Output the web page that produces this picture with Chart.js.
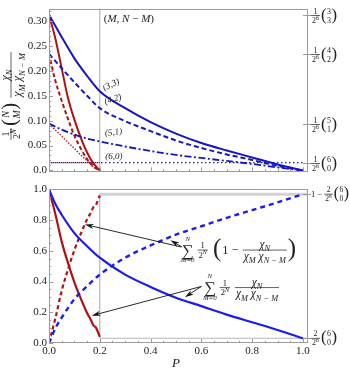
<!DOCTYPE html>
<html>
<head>
<meta charset="utf-8">
<script src="https://cdn.jsdelivr.net/npm/chart.js@4.4.1/dist/chart.umd.min.js"></script>
<style>
  html, body { margin: 0; padding: 0; background: #fff; }
  .box { position: absolute; left: 0; width: 350px; }
</style>
</head>
<body>
<div class="box" style="top:0;height:180px"><canvas id="topChart"></canvas></div>
<div class="box" style="top:180px;height:190px"><canvas id="botChart"></canvas></div>
<script>
// ---- data (N = 6) ----
// top panel: single terms (M, N-M)
const pBlue  = [0, 0.05, 0.1, 0.15, 0.2, 0.3, 0.4, 0.5, 0.6, 0.7, 0.8, 0.9, 1.0];
const blue33 = [0.3125, 0.268, 0.225, 0.19, 0.159, 0.125, 0.097, 0.074, 0.055, 0.040, 0.026, 0.012, 0.0];
const blue42 = [0.234, 0.205, 0.177, 0.15, 0.125, 0.099, 0.079, 0.060, 0.045, 0.032, 0.021, 0.009, 0.0];
const blue51 = [0.094, 0.082, 0.072, 0.064, 0.058, 0.048, 0.039, 0.031, 0.025, 0.019, 0.013, 0.006, 0.0];
const pFlat  = [0, 1.0];
const blue60 = [0.0156, 0.0156];

const pRed  = [0, 0.025, 0.05, 0.075, 0.1, 0.125, 0.15, 0.175, 0.2];
const red33 = [0.3125, 0.265, 0.205, 0.145, 0.102, 0.066, 0.036, 0.014, 0.0];
const red42 = [0.234, 0.18, 0.14, 0.103, 0.07, 0.044, 0.023, 0.008, 0.0];
const red51 = [0.094, 0.081, 0.069, 0.056, 0.044, 0.031, 0.019, 0.007, 0.0];
const pRedFlat = [0, 0.2];
const red60 = [0.0156, 0.0156];

// bottom panel: sums over M
const pSum      = [0, 0.025, 0.05, 0.1, 0.15, 0.2, 0.3, 0.4, 0.5, 0.6, 0.7, 0.8, 0.9, 1.0];
const blueSum   = [1.0, 0.905, 0.835, 0.715, 0.63, 0.555, 0.445, 0.365, 0.295, 0.24, 0.185, 0.135, 0.085, 0.031];
const blueRest  = [0.0, 0.095, 0.165, 0.285, 0.37, 0.445, 0.555, 0.635, 0.705, 0.76, 0.815, 0.865, 0.915, 0.969];
const pRedSum   = [0, 0.0125, 0.025, 0.05, 0.075, 0.1, 0.125, 0.15, 0.165, 0.175, 0.185, 0.2];
const redSum    = [1.0, 0.92, 0.84, 0.66, 0.52, 0.395, 0.29, 0.195, 0.15, 0.115, 0.1, 0.04];
const redRest   = [0.0, 0.08, 0.16, 0.34, 0.48, 0.605, 0.71, 0.805, 0.85, 0.885, 0.9, 0.96];

const cutP = 0.2;
const lowLevel = 0.031, highLevel = 0.969;

// ticks and labels
const xTicks = [0, 0.2, 0.4, 0.6, 0.8, 1.0];
const topYTicks = [0, 0.05, 0.1, 0.15, 0.2, 0.25, 0.3];
const botYTicks = [0, 0.2, 0.4, 0.6, 0.8, 1.0];
const curveTags = ['(3,3)', '(4,2)', '(5,1)', '(6,0)'];
const topRightVals = [0.3125, 0.234, 0.094, 0.0156];
const topRightBinoms = [['3', '3'], ['4', '2'], ['5', '1'], ['6', '0']];
const botRightVals = [highLevel, lowLevel];

const SERIF = '"Liberation Serif", "DejaVu Serif", serif';
const BLUE = '#1616c4';
const BLUE2 = '#1c1cf0';
const RED = '#b01212';
const FRAME = '#9c9c9c';

// ---- small math text helpers ----
function fnt(size, it) { return (it ? 'italic ' : '') + size.toFixed(1) + 'px ' + SERIF; }
// kind: r roman, i italic, +s sub, +p sup
function segInfo(k, size) {
  const s = k.length > 1 ? size * 0.72 : size;
  const dy = k[1] === 's' ? size * 0.28 : (k[1] === 'p' ? -size * 0.4 : 0);
  return { f: fnt(s, k[0] === 'i'), dy: dy };
}
function richW(ctx, segs, size) {
  let w = 0;
  for (const [t, k] of segs) { ctx.font = segInfo(k, size).f; w += ctx.measureText(t).width; }
  return w;
}
function rich(ctx, segs, x, y, size) {
  ctx.textAlign = 'left'; ctx.textBaseline = 'alphabetic';
  for (const [t, k] of segs) {
    const m = segInfo(k, size);
    ctx.font = m.f; ctx.fillText(t, x, y + m.dy);
    x += ctx.measureText(t).width;
  }
  return x;
}
function frac(ctx, num, den, x, y, size) {
  const wn = richW(ctx, num, size), wd = richW(ctx, den, size);
  const w = Math.max(wn, wd) + 2;
  rich(ctx, num, x + (w - wn) / 2, y - 2, size);
  rich(ctx, den, x + (w - wd) / 2, y + size * 0.72 + 1.5, size);
  ctx.fillRect(x, y - 0.35, w, 0.7);
  return x + w;
}
function paren(ctx, ch, x, y, size) {
  ctx.font = fnt(size, false); ctx.textAlign = 'left'; ctx.textBaseline = 'alphabetic';
  ctx.fillText(ch, x, y + size * 0.24);
  return x + ctx.measureText(ch).width;
}
function binom(ctx, top, bot, x, y, size) {
  x = paren(ctx, '(', x, y, size * 2.1);
  const wt = richW(ctx, top, size), wb = richW(ctx, bot, size);
  const w = Math.max(wt, wb) + 1;
  rich(ctx, top, x + (w - wt) / 2, y - 2, size);
  rich(ctx, bot, x + (w - wb) / 2, y + size * 0.72 + 1.5, size);
  return paren(ctx, ')', x + w, y, size * 2.1);
}
function sigma(ctx, x, y, size) {
  ctx.font = fnt(size * 1.5, false);
  const w = ctx.measureText('\u2211').width;
  ctx.textAlign = 'center'; ctx.textBaseline = 'alphabetic';
  ctx.fillText('\u2211', x + w / 2, y + size * 0.5);
  ctx.font = fnt(size * 0.62, true);
  ctx.fillText('N', x + w / 2, y - size * 0.85);
  ctx.fillText('M=0', x + w / 2, y + size * 1.1);
  return x + w + 1;
}
function arrow(ctx, x0, y0, x1, y1) {
  const a = Math.atan2(y1 - y0, x1 - x0), c = Math.cos(a), s = Math.sin(a), L = 9, W = 2.6;
  ctx.beginPath(); ctx.moveTo(x0, y0); ctx.lineTo(x1 - L * 0.7 * c, y1 - L * 0.7 * s); ctx.stroke();
  ctx.beginPath();
  ctx.moveTo(x1, y1);
  ctx.lineTo(x1 - L * c + W * s, y1 - L * s - W * c);
  ctx.lineTo(x1 - L * 0.7 * c, y1 - L * 0.7 * s);
  ctx.lineTo(x1 - L * c - W * s, y1 - L * s + W * c);
  ctx.closePath(); ctx.fill();
}

const chiN = [['\u03c7', 'i'], ['N', 'is']];
const chiDen = [['\u03c7', 'i'], ['M', 'is'], [' ', 'r'], ['\u03c7', 'i'], ['N \u2212 M', 'is']];
const oneOver2N = [[['1', 'r']], [['2', 'r'], ['N', 'ip']]];

// ---- frame, inward ticks ----
function frameAndTicks(chart, yMajor, yMinor, tickLen) {
  const ctx = chart.ctx, a = chart.chartArea, xs = chart.scales.x, ys = chart.scales.y;
  ctx.save();
  ctx.strokeStyle = FRAME; ctx.lineWidth = 1;
  ctx.strokeRect(Math.round(a.left) + 0.5, Math.round(a.top) + 0.5,
    Math.round(a.right - a.left) - 1, Math.round(a.bottom - a.top) - 1);
  ctx.beginPath();
  for (let v = 0; v <= 1.0001; v += 0.05) {
    const px = Math.round(xs.getPixelForValue(v)) + 0.5;
    const major = Math.abs(v / 0.2 - Math.round(v / 0.2)) < 1e-6;
    ctx.moveTo(px, a.bottom); ctx.lineTo(px, a.bottom - (major ? tickLen : tickLen * 0.55));
  }
  for (const v of yMinor) {
    const py = Math.round(ys.getPixelForValue(v)) + 0.5;
    const major = yMajor.some(m => Math.abs(m - v) < 1e-6);
    ctx.moveTo(a.left, py); ctx.lineTo(a.left + (major ? tickLen : tickLen * 0.55), py);
  }
  ctx.stroke();
  ctx.restore();
}

function lineDs(xs, ys, color, width, dash, extra) {
  return Object.assign({
    data: xs.map((x, i) => ({ x: x, y: ys[i] })),
    borderColor: color, borderWidth: width, borderDash: dash || [],
    pointRadius: 0, showLine: true, fill: false,
    cubicInterpolationMode: 'monotone', order: 0
  }, extra || {});
}
function guideDs(xs, ys, color, width) {
  return lineDs(xs, ys, color, width, [], { cubicInterpolationMode: 'default', tension: 0, order: 10 });
}

function yAxis(min, max, ticks, fmt) {
  return {
    type: 'linear', min: min, max: max,
    afterBuildTicks: s => { s.ticks = ticks.map(v => ({ value: v })); },
    afterFit: s => { s.width = 49; },
    ticks: { callback: fmt, color: '#222', padding: 2, font: { family: SERIF, size: 11 } },
    grid: { display: false, drawTicks: false }, border: { display: false }
  };
}

const baseOpts = {
  responsive: true, maintainAspectRatio: false, animation: false, devicePixelRatio: 1,
  plugins: { legend: { display: false }, tooltip: { enabled: false } }
};

// ---- top panel ----
const topMinor = [];
for (let i = 0; i <= 32; i++) topMinor.push(i / 100);

const topDecor = {
  id: 'topDecor',
  afterDatasetsDraw(chart) {
    const ctx = chart.ctx, xs = chart.scales.x, ys = chart.scales.y, a = chart.chartArea;
    frameAndTicks(chart, topYTicks, topMinor, 4);
    ctx.save();
    ctx.fillStyle = '#222'; ctx.strokeStyle = FRAME;
    // right-hand ticks and labels
    topRightVals.forEach((v, i) => {
      const py = Math.round(ys.getPixelForValue(v)) + 0.5;
      ctx.beginPath(); ctx.moveTo(a.right - 5, py); ctx.lineTo(a.right + 3, py); ctx.stroke();
      let x = frac(ctx, [['1', 'r']], [['2', 'r'], ['6', 'rp']], a.right + 3, py, 8);
      binom(ctx, [[topRightBinoms[i][0], 'r']], [[topRightBinoms[i][1], 'r']], x + 1, py, 8);
    });
    // (M, N - M)
    rich(ctx, [['(', 'r'], ['M', 'i'], [', ', 'r'], ['N', 'i'], [' \u2212 ', 'r'], ['M', 'i'], [')', 'r']],
      xs.getPixelForValue(cutP) + 4, ys.getPixelForValue(0.3) + 1, 11);
    // curve tags
    const tagAt = [[0.218, 0.16, -0.45], [0.222, 0.133, -0.3], [0.222, 0.069, -0.14], [0.222, 0.022, 0]];
    curveTags.forEach((t, i) => {
      ctx.save();
      ctx.translate(xs.getPixelForValue(tagAt[i][0]), ys.getPixelForValue(tagAt[i][1]));
      ctx.rotate(tagAt[i][2]);
      ctx.font = fnt(9, true); ctx.textAlign = 'left'; ctx.textBaseline = 'alphabetic';
      ctx.fillText(t, 0, 0);
      ctx.restore();
    });
    // y axis title, rotated
    ctx.save();
    ctx.translate(11, 96); ctx.rotate(-Math.PI / 2);
    const parts = () => {
      let x = 0;
      x = frac(ctx, oneOver2N[0], oneOver2N[1], x, 0, 10);
      x = binom(ctx, [['N', 'i']], [['M', 'i']], x + 2, 0, 10);
      x = frac(ctx, chiN, chiDen, x + 5, 0, 12);
      return x;
    };
    ctx.save(); ctx.globalAlpha = 0; const W = parts(); ctx.restore();
    ctx.translate(-W / 2, 0);
    parts();
    ctx.restore();
    ctx.restore();
  }
};

new Chart(document.getElementById('topChart'), {
  type: 'scatter',
  data: {
    datasets: [
      guideDs([cutP, cutP], [-0.01, 0.4], '#a8a8a8', 1),
      lineDs(pRedFlat, red60, RED, 1.4, [1.5, 2.5], { borderDashOffset: 2 }),
      lineDs(pFlat, blue60, BLUE, 1.4, [1.5, 2.5]),
      lineDs(pBlue, blue51, BLUE, 1.8, [7, 2.5, 2, 2.5]),
      lineDs(pBlue, blue42, BLUE, 2, [5, 3]),
      lineDs(pBlue, blue33, BLUE, 2),
      lineDs(pRed, red51, RED, 1.3, [1.5, 1.5]),
      lineDs(pRed, red42, RED, 2, [4, 2.5]),
      lineDs(pRed, red33, RED, 2)
    ]
  },
  options: Object.assign({}, baseOpts, {
    layout: { padding: { top: 3, right: 42, bottom: 4, left: 0 } },
    scales: {
      x: { type: 'linear', min: 0, max: 1.02, display: false },
      y: yAxis(-0.002, 0.325, topYTicks, v => (v === 0 ? '0.0' : v.toFixed(2)))
    }
  }),
  plugins: [topDecor]
});

// ---- bottom panel ----
const botMinor = [];
for (let i = 0; i <= 20; i++) botMinor.push(i * 0.05);

const botDecor = {
  id: 'botDecor',
  afterDatasetsDraw(chart) {
    const ctx = chart.ctx, xs = chart.scales.x, ys = chart.scales.y, a = chart.chartArea;
    frameAndTicks(chart, botYTicks, botMinor, 4);
    const X = v => xs.getPixelForValue(v), Y = v => ys.getPixelForValue(v);
    ctx.save();
    ctx.fillStyle = '#222'; ctx.strokeStyle = FRAME;
    botRightVals.forEach(v => {
      const py = Math.round(Y(v)) + 0.5;
      ctx.beginPath(); ctx.moveTo(a.right - 5, py); ctx.lineTo(a.right + 3, py); ctx.stroke();
    });
    let x = rich(ctx, [['1 \u2212 ', 'r']], a.right + 3, Y(highLevel) + 3, 8.5);
    x = frac(ctx, [['2', 'r']], [['2', 'r'], ['6', 'rp']], x, Y(highLevel), 7.5);
    binom(ctx, [['6', 'r']], [['0', 'r']], x + 1, Y(highLevel), 7.5);
    x = frac(ctx, [['2', 'r']], [['2', 'r'], ['6', 'rp']], a.right + 3, Y(lowLevel), 8);
    binom(ctx, [['6', 'r']], [['0', 'r']], x + 1, Y(lowLevel), 8);

    // arrows
    ctx.strokeStyle = '#111'; ctx.fillStyle = '#111'; ctx.lineWidth = 0.9;
    arrow(ctx, X(0.52), Y(0.625), X(0.141), Y(0.772));
    arrow(ctx, X(0.524), Y(0.625), X(0.478), Y(0.668));
    arrow(ctx, X(0.6), Y(0.368), X(0.168), Y(0.178));
    arrow(ctx, X(0.6), Y(0.368), X(0.535), Y(0.298));

    // formulas
    ctx.fillStyle = '#222';
    let ay = Y(0.605);
    x = sigma(ctx, X(0.523), ay, 11);
    x = frac(ctx, oneOver2N[0], oneOver2N[1], x + 3, ay, 8.5);
    x = paren(ctx, '(', x + 5, ay, 25);
    x = rich(ctx, [['1 \u2212 ', 'r']], x + 1, ay + 4, 12.5);
    x = frac(ctx, chiN, chiDen, x + 1, ay, 11.5);
    paren(ctx, ')', x + 1, ay, 25);

    ay = Y(0.36);
    x = sigma(ctx, X(0.61), ay, 11);
    x = frac(ctx, oneOver2N[0], oneOver2N[1], x + 3, ay, 8.5);
    frac(ctx, chiN, chiDen, x + 5, ay, 11.5);

    // axis title
    ctx.font = fnt(13, true); ctx.textAlign = 'center'; ctx.textBaseline = 'alphabetic';
    ctx.fillText('P', X(0.5), chart.height - 3);
    ctx.restore();
  }
};

new Chart(document.getElementById('botChart'), {
  type: 'scatter',
  data: {
    datasets: [
      guideDs([cutP, 1.02], [highLevel, highLevel], '#d2d2d2', 3),
      guideDs([cutP, 1.02], [lowLevel, lowLevel], '#b4b4b4', 1.2),
      guideDs([cutP, cutP], [lowLevel, highLevel], '#a8a8a8', 1),
      lineDs(pSum, blueRest, BLUE2, 2.4, [5, 4]),
      lineDs(pSum, blueSum, BLUE2, 2.2),
      lineDs(pRedSum, redRest, RED, 2.2, [4, 3]),
      lineDs(pRedSum, redSum, RED, 2.2)
    ]
  },
  options: Object.assign({}, baseOpts, {
    layout: { padding: { top: 7, right: 42, bottom: 0, left: 0 } },
    scales: {
      x: {
        type: 'linear', min: 0, max: 1.02,
        afterBuildTicks: s => { s.ticks = xTicks.map(v => ({ value: v })); },
        afterFit: s => { s.height = 27; },
        ticks: { callback: v => v.toFixed(1), color: '#222', padding: 2, maxRotation: 0, autoSkip: false,
                 font: { family: SERIF, size: 11 } },
        grid: { display: false, drawTicks: false }, border: { display: false }
      },
      y: yAxis(0, 1.005, botYTicks, v => v.toFixed(1))
    }
  }),
  plugins: [botDecor]
});
</script>
</body>
</html>
